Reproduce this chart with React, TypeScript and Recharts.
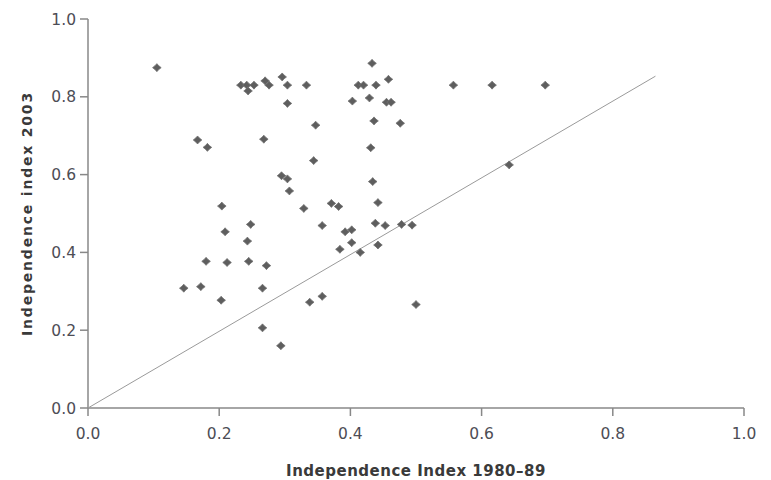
import React from 'react';
import { ScatterChart, Scatter, XAxis, YAxis } from 'recharts';

const indexX: number[] = [
  0.105, 0.233, 0.242, 0.244, 0.253, 0.27, 0.276, 0.296, 0.304, 0.304, 0.333, 0.347,
  0.167, 0.182, 0.268, 0.344, 0.295, 0.304, 0.307, 0.204, 0.329, 0.371, 0.382,
  0.209, 0.248, 0.243, 0.357, 0.384, 0.18, 0.212, 0.245, 0.272, 0.146, 0.172, 0.266,
  0.203, 0.338, 0.357, 0.266, 0.294, 0.433, 0.412, 0.42, 0.439, 0.458, 0.403, 0.429,
  0.455, 0.462, 0.436, 0.476, 0.431, 0.434, 0.442, 0.557, 0.616, 0.697, 0.642,
  0.392, 0.402, 0.438, 0.453, 0.478, 0.494, 0.402, 0.415, 0.442, 0.5,
];
const indexY: number[] = [
  0.875, 0.83, 0.83, 0.815, 0.83, 0.841, 0.83, 0.851, 0.83, 0.783, 0.83, 0.727,
  0.689, 0.67, 0.691, 0.636, 0.597, 0.589, 0.558, 0.519, 0.513, 0.526, 0.518,
  0.453, 0.472, 0.429, 0.469, 0.408, 0.377, 0.374, 0.377, 0.366, 0.308, 0.312, 0.308,
  0.277, 0.272, 0.287, 0.206, 0.16, 0.886, 0.83, 0.83, 0.83, 0.845, 0.789, 0.797,
  0.786, 0.786, 0.738, 0.732, 0.669, 0.582, 0.528, 0.83, 0.83, 0.83, 0.625,
  0.453, 0.458, 0.475, 0.469, 0.472, 0.47, 0.425, 0.4, 0.419, 0.266,
];
const lineX: number[] = [0, 0.865];
const lineY: number[] = [0, 0.853];
const ticks: number[] = [0, 0.2, 0.4, 0.6, 0.8, 1.0];
const xLabel = 'Independence Index 1980–89';
const yLabel = 'Independence index 2003';

const points = indexX.map((x, i) => ({ x, y: indexY[i] }));
const linePts = lineX.map((x, i) => ({ x, y: lineY[i] }));

const Star = (props: any) => {
  const { cx, cy } = props;
  if (cx == null || cy == null) return null;
  const ox = 4.3;
  const oy = 4;
  const n = 1.9;
  const d = `M${cx},${cy - oy} L${cx + n},${cy - n} L${cx + ox},${cy} L${cx + n},${cy + n} L${cx},${cy + oy} L${cx - n},${cy + n} L${cx - ox},${cy} L${cx - n},${cy - n} Z`;
  return <path d={d} fill="#5e5e5e" stroke="#707070" strokeWidth={0.8} />;
};

const NoDot = () => null;

const font = '"DejaVu Sans", sans-serif';
const tickStyle = { fill: '#4d4d55', fontSize: 15.5, fontFamily: font };

export default function App() {
  return (
    <div style={{ position: 'absolute', left: 0, top: 0, background: '#fff' }}>
      <ScatterChart width={771} height={480} margin={{ top: 19, right: 27, bottom: 0, left: 0 }}>
        <XAxis
          type="number"
          dataKey="x"
          domain={[0, 1]}
          ticks={ticks}
          tickFormatter={(v: number) => v.toFixed(1)}
          height={72}
          stroke="#888"
          strokeWidth={1.5}
          tickSize={8}
          tickMargin={12}
          tick={tickStyle}
          allowDataOverflow
          label={{ value: xLabel, position: 'insideBottom', offset: 4, style: { fill: '#3a3a3a', fontSize: 15, fontWeight: 'bold', letterSpacing: 0.5, fontFamily: font } }}
        />
        <YAxis
          type="number"
          dataKey="y"
          domain={[0, 1]}
          ticks={ticks}
          tickFormatter={(v: number) => v.toFixed(1)}
          width={88}
          stroke="#888"
          strokeWidth={1.5}
          tickSize={8}
          tickMargin={4}
          tick={tickStyle}
          allowDataOverflow
          label={{ value: yLabel, angle: -90, position: 'insideLeft', offset: 27, style: { textAnchor: 'middle', fill: '#3a3a3a', fontSize: 14, fontWeight: 'bold', letterSpacing: 1.8, fontFamily: font } }}
        />
        <Scatter data={linePts} line={{ stroke: '#9a9a9a', strokeWidth: 1 }} shape={NoDot} isAnimationActive={false} />
        <Scatter data={points} shape={Star} isAnimationActive={false} />
      </ScatterChart>
    </div>
  );
}
